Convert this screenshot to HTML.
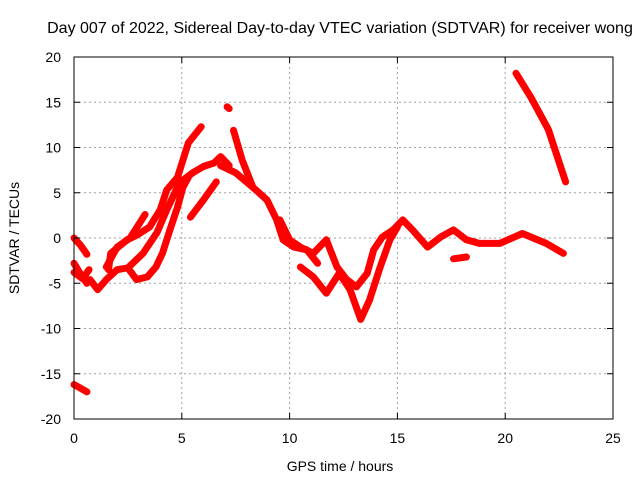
<!DOCTYPE html>
<html><head><meta charset="utf-8"><style>
body{margin:0;background:#fff}
svg{display:block;font-family:"Liberation Sans",sans-serif}
</style></head><body>
<svg id="chart" width="640" height="480" viewBox="0 0 640 480" xmlns="http://www.w3.org/2000/svg">
<text x="340" y="33" font-size="16" text-anchor="middle">Day 007 of 2022, Sidereal Day-to-day VTEC variation (SDTVAR) for receiver wong</text>
<g id="grid"></g>
<g id="series"></g>
<rect x="74" y="57" width="539" height="362" fill="none" stroke="#000" stroke-width="1"/>
<g id="axes"></g>
<text x="340" y="471" font-size="14" text-anchor="middle">GPS time / hours</text>
<text x="19" y="238" font-size="14" text-anchor="middle" transform="rotate(-90 19 238)">SDTVAR / TECUs</text>
</svg>
<script>
const xTicks=[0,5,10,15,20,25];
const yTicks=[-20,-15,-10,-5,0,5,10,15,20];
const trackA_h=[20.5,21.2,22.0,22.8]; const trackA_v=[18.2,15.5,12,6.2];
const trackB_h=[0,0.3,0.6]; const trackB_v=[-16.2,-16.6,-17];
const track0a_h=[0,0.3,0.6]; const track0a_v=[0,-0.8,-1.8];
const track0b_h=[0,0.3,0.6]; const track0b_v=[-2.8,-4,-5];
const track0c_h=[0,0.4,0.7]; const track0c_v=[-3.8,-4.5,-3.5];
const track1_h=[1.6,1.7,2.46,2.9,3.5,4.0,4.3,4.8,5.3,5.9]; const track1_v=[-3.5,-1.7,-0.2,0.3,1.2,3.1,5.3,6.7,10.5,12.3];
const track1b_h=[1.5,2.0,2.6,3.3]; const track1b_v=[-3.2,-1,0,2.6];
const track2_h=[0.74,1.1,1.5,2.0,2.5,2.9,3.4,3.8,4.1,4.45,4.8,5.05,5.3]; const track2_v=[-4.6,-5.7,-4.6,-3.5,-3.3,-4.6,-4.3,-3.2,-1.7,0.9,3.4,5.6,6.7];
const track3_h=[2.5,3.2,3.85,4.3,4.9,5.5,6.0,6.5,6.8,7.2]; const track3_v=[-3.3,-1.7,0.6,3.1,6.1,7.2,7.9,8.3,9,8];
const track4_h=[5.4,6.0,6.6]; const track4_v=[2.3,4.2,6.2];
const track5_h=[7.4,7.8,8.3,8.95,9.4,9.7,10.2,10.8,11.3]; const track5_v=[11.9,8.6,5.6,4.2,2,-0.2,-1,-1.3,-2.8];
const track6_h=[6.8,7.5,8.3]; const track6_v=[8,7.2,5.6];
const track7_h=[9.55,10,10.5,11.1,11.7,12.2,12.65,13.1,13.6,13.9,14.3,14.8,15.25,15.7,16.4,17,17.6,18.2,18.8,19.75,20.8,21.9,22.7]; const track7_v=[2,-0.2,-1,-1.7,-0.2,-3.2,-4.6,-5.4,-3.9,-1.3,0.1,0.9,2,0.9,-1,0.1,0.9,-0.2,-0.6,-0.6,0.5,-0.6,-1.7];
const track8_h=[10.5,11.1,11.7,12.3,12.8,13.3,13.7,14.2,14.65,15]; const track8_v=[-3.2,-4.3,-6.1,-3.9,-5.7,-9,-6.9,-3.2,-0.2,1.2];
const track9_h=[17.6,18.2]; const track9_v=[-2.3,-2.1];
const track10_h=[7.1,7.2]; const track10_v=[14.5,14.3];
const tracks=[[trackA_h,trackA_v],[trackB_h,trackB_v],[track0a_h,track0a_v],[track0b_h,track0b_v],[track0c_h,track0c_v],[track1_h,track1_v],[track1b_h,track1b_v],[track2_h,track2_v],[track3_h,track3_v],[track4_h,track4_v],[track5_h,track5_v],[track6_h,track6_v],[track7_h,track7_v],[track8_h,track8_v],[track9_h,track9_v],[track10_h,track10_v]];
const NS="http://www.w3.org/2000/svg";
function X(h){return 74+h*(539/25);}
function Y(v){return 238-v*(362/40);}
const grid=document.getElementById('grid'),axes=document.getElementById('axes'),ser=document.getElementById('series');
function mk(tag,attrs,parent){const e=document.createElementNS(NS,tag);for(const k in attrs)e.setAttribute(k,attrs[k]);parent.appendChild(e);return e;}
xTicks.forEach(t=>{
  if(t>0&&t<25){const g=mk('line',{x1:X(t),x2:X(t),y1:57,y2:419,stroke:'#a0a0a0','stroke-dasharray':'2,3'},grid);
  
  }
  const l=mk('text',{x:X(t),y:443,'font-size':14,'text-anchor':'middle'},axes);l.textContent=t;
  
  
  mk('line',{x1:X(t),x2:X(t),y1:419,y2:413,stroke:'#000'},axes);
  mk('line',{x1:X(t),x2:X(t),y1:57,y2:63,stroke:'#000'},axes);
});
yTicks.forEach(t=>{
  if(t>-20&&t<20){const g=mk('line',{x1:74,x2:613,y1:Y(t),y2:Y(t),stroke:'#a0a0a0','stroke-dasharray':'2,3'},grid);
  
  }
  const l=mk('text',{x:61,y:Y(t)+5,'font-size':14,'text-anchor':'end'},axes);l.textContent=t;
  
  
  mk('line',{x1:74,x2:80,y1:Y(t),y2:Y(t),stroke:'#000'},axes);
  mk('line',{x1:613,x2:607,y1:Y(t),y2:Y(t),stroke:'#000'},axes);
});
tracks.forEach(([hs,vs])=>{
  const pts=hs.map((h,i)=>X(h).toFixed(1)+','+Y(vs[i]).toFixed(1)).join(' ');
  const p=mk('polyline',{points:pts,fill:'none',stroke:'#ff0000','stroke-width':7,'stroke-linejoin':'round','stroke-linecap':'round'},ser);
  
  
});
</script>
</body></html>
